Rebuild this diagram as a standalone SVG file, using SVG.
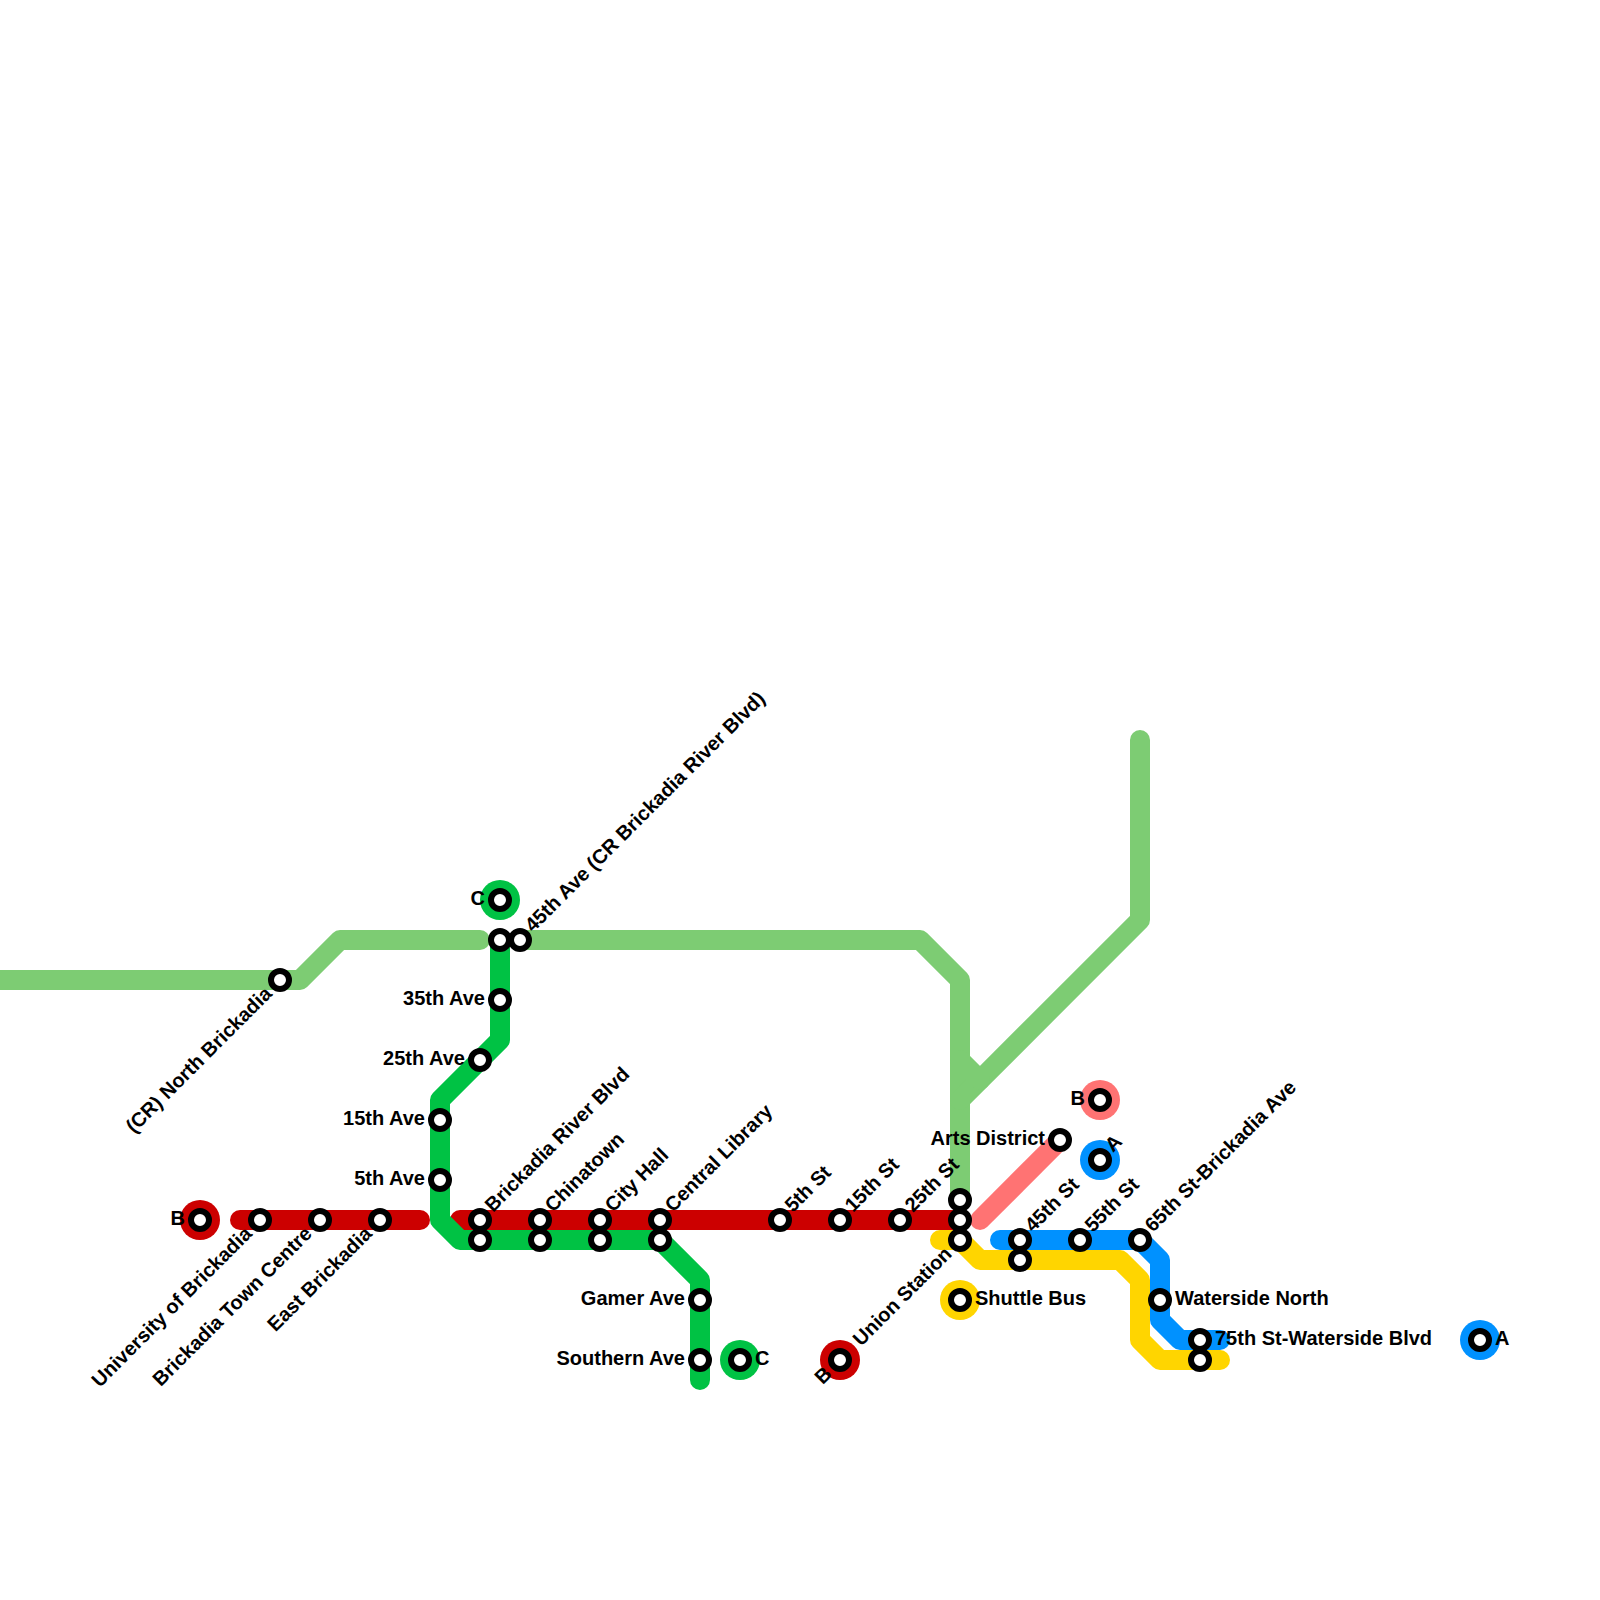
<svg xmlns="http://www.w3.org/2000/svg" width="1600" height="1600" viewBox="0 0 1600 1600">
<style>
.l{fill:none;stroke-width:20;stroke-linecap:round;stroke-linejoin:round}
.s{fill:#fff;stroke:#000;stroke-width:6}
text{font-family:"Liberation Sans",Arial,sans-serif;font-weight:bold;font-size:20px;fill:#000}
.e{text-anchor:end}
</style>
<rect width="1600" height="1600" fill="#fff"/>
<g id="connectors">
<path class="l" stroke="#7dcc73" d="M-10 980H300L340 940H480"/>
<path class="l" stroke="#7dcc73" d="M520 940H920L960 980V1200"/>
<path class="l" stroke="#7dcc73" d="M1140 740V920L960 1100"/>
<path class="l" stroke="#7dcc73" d="M960 1060L980 1080"/>
<path class="l" stroke="#cc0000" d="M240 1220H420"/>
<path class="l" stroke="#cc0000" d="M460 1220H960"/>
<path class="l" stroke="#00c244" d="M500 940V1040L440 1100V1220L460 1240H660L700 1280V1380"/>
<path class="l" stroke="#ff7373" d="M980 1220L1060 1140"/>
<path class="l" stroke="#ffd500" d="M940 1240H960L980 1260H1120L1140 1280V1340L1160 1360H1220"/>
<path class="l" stroke="#0091ff" d="M1000 1240H1140L1160 1260V1320L1180 1340H1220"/>
</g>
<g id="t-b1"><circle cx="200" cy="1220" r="20" fill="#cc0000"/><circle class="s" cx="200" cy="1220" r="9"/><text class="e" x="185" y="1225">B</text></g>
<g id="university"><circle class="s" cx="260" cy="1220" r="9"/><text class="e" transform="translate(253 1235) rotate(-45)">University of Brickadia</text></g>
<g id="town-centre"><circle class="s" cx="320" cy="1220" r="9"/><text class="e" transform="translate(313 1235) rotate(-45)">Brickadia Town Centre</text></g>
<g id="east"><circle class="s" cx="380" cy="1220" r="9"/><text class="e" transform="translate(373 1235) rotate(-45)">East Brickadia</text></g>
<g id="north"><circle class="s" cx="280" cy="980" r="9"/><text class="e" transform="translate(273 995) rotate(-45)">(CR) North Brickadia</text></g>
<g id="t-c1"><circle cx="500" cy="900" r="20" fill="#00c244"/><circle class="s" cx="500" cy="900" r="9"/><text class="e" x="485" y="905">C</text></g>
<g id="a45g"><circle class="s" cx="500" cy="940" r="9"/></g>
<g id="a45"><circle class="s" cx="520" cy="940" r="9"/><text transform="translate(533 933) rotate(-45)">45th Ave (CR Brickadia River Blvd)</text></g>
<g id="a35"><circle class="s" cx="500" cy="1000" r="9"/><text class="e" x="485" y="1005">35th Ave</text></g>
<g id="a25"><circle class="s" cx="480" cy="1060" r="9"/><text class="e" x="465" y="1065">25th Ave</text></g>
<g id="a15"><circle class="s" cx="440" cy="1120" r="9"/><text class="e" x="425" y="1125">15th Ave</text></g>
<g id="a5"><circle class="s" cx="440" cy="1180" r="9"/><text class="e" x="425" y="1185">5th Ave</text></g>
<g id="river"><circle class="s" cx="480" cy="1220" r="9"/><circle class="s" cx="480" cy="1240" r="9"/><text transform="translate(493 1213) rotate(-45)">Brickadia River Blvd</text></g>
<g id="chinatown"><circle class="s" cx="540" cy="1220" r="9"/><circle class="s" cx="540" cy="1240" r="9"/><text transform="translate(553 1213) rotate(-45)">Chinatown</text></g>
<g id="cityhall"><circle class="s" cx="600" cy="1220" r="9"/><circle class="s" cx="600" cy="1240" r="9"/><text transform="translate(613 1213) rotate(-45)">City Hall</text></g>
<g id="library"><circle class="s" cx="660" cy="1220" r="9"/><circle class="s" cx="660" cy="1240" r="9"/><text transform="translate(673 1213) rotate(-45)">Central Library</text></g>
<g id="gamer"><circle class="s" cx="700" cy="1300" r="9"/><text class="e" x="685" y="1305">Gamer Ave</text></g>
<g id="southern"><circle class="s" cx="700" cy="1360" r="9"/><text class="e" x="685" y="1365">Southern Ave</text></g>
<g id="t-c2"><circle cx="740" cy="1360" r="20" fill="#00c244"/><circle class="s" cx="740" cy="1360" r="9"/><text x="755" y="1365">C</text></g>
<g id="st5"><circle class="s" cx="780" cy="1220" r="9"/><text transform="translate(793 1213) rotate(-45)">5th St</text></g>
<g id="st15"><circle class="s" cx="840" cy="1220" r="9"/><text transform="translate(853 1213) rotate(-45)">15th St</text></g>
<g id="st25"><circle class="s" cx="900" cy="1220" r="9"/><text transform="translate(913 1213) rotate(-45)">25th St</text></g>
<g id="t-b2"><circle cx="840" cy="1360" r="20" fill="#cc0000"/><circle class="s" cx="840" cy="1360" r="9"/><text class="e" transform="translate(833 1375) rotate(-45)">B</text></g>
<g id="union"><circle class="s" cx="960" cy="1200" r="9"/><circle class="s" cx="960" cy="1220" r="9"/><circle class="s" cx="960" cy="1240" r="9"/><text class="e" transform="translate(953 1255) rotate(-45)">Union Station</text></g>
<g id="t-y"><circle cx="960" cy="1300" r="20" fill="#ffd500"/><circle class="s" cx="960" cy="1300" r="9"/><text x="975" y="1305">Shuttle Bus</text></g>
<g id="arts"><circle class="s" cx="1060" cy="1140" r="9"/><text class="e" x="1045" y="1145">Arts District</text></g>
<g id="t-s"><circle cx="1100" cy="1100" r="20" fill="#ff7373"/><circle class="s" cx="1100" cy="1100" r="9"/><text class="e" x="1085" y="1105">B</text></g>
<g id="t-a1"><circle cx="1100" cy="1160" r="20" fill="#0091ff"/><circle class="s" cx="1100" cy="1160" r="9"/><text transform="translate(1113 1153) rotate(-45)">A</text></g>
<g id="st45"><circle class="s" cx="1020" cy="1240" r="9"/><circle class="s" cx="1020" cy="1260" r="9"/><text transform="translate(1033 1233) rotate(-45)">45th St</text></g>
<g id="st55"><circle class="s" cx="1080" cy="1240" r="9"/><text transform="translate(1093 1233) rotate(-45)">55th St</text></g>
<g id="st65"><circle class="s" cx="1140" cy="1240" r="9"/><text transform="translate(1153 1233) rotate(-45)">65th St-Brickadia Ave</text></g>
<g id="waterside"><circle class="s" cx="1160" cy="1300" r="9"/><text x="1175" y="1305">Waterside North</text></g>
<g id="st75"><circle class="s" cx="1200" cy="1340" r="9"/><circle class="s" cx="1200" cy="1360" r="9"/><text x="1215" y="1345">75th St-Waterside Blvd</text></g>
<g id="t-a2"><circle cx="1480" cy="1340" r="20" fill="#0091ff"/><circle class="s" cx="1480" cy="1340" r="9"/><text x="1495" y="1345">A</text></g>
</svg>
